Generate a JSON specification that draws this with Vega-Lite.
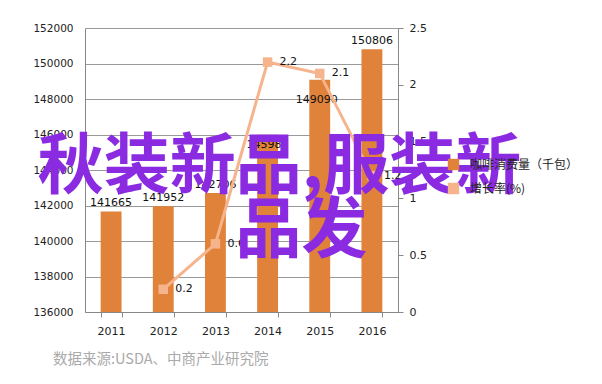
{
  "$schema": "https://vega.github.io/schema/vega-lite/v6.json",
  "autosize": {"type": "none"},
  "width": 313,
  "height": 284,
  "padding": {"left": 85, "top": 28, "right": 204, "bottom": 72},
  "background": "white",
  "config": {
    "view": {"stroke": null},
    "axis": {"labelFont": "DejaVu Sans", "labelFontSize": 10.5, "labelColor": "#222", "domainColor": "#888", "tickColor": "#888", "gridColor": "#999", "labelOverlap": false},
    "legend": {"labelFont": "Noto Sans CJK SC", "labelFontSize": 12, "labelColor": "#222"}
  },
  "title": {
    "text": "数据来源:USDA、中商产业研究院",
    "orient": "bottom",
    "anchor": "start",
    "dx": 20,
    "offset": 17,
    "font": "Noto Sans CJK SC",
    "fontSize": 14.5,
    "fontWeight": "normal",
    "color": "#aaaaaa"
  },
  "datasets": {
    "main": [
      {"year": "2011", "consumption": 141665, "growth": null, "s1": "咖啡消费量（千包）"},
      {"year": "2012", "consumption": 141952, "growth": 0.2, "s1": "咖啡消费量（千包）"},
      {"year": "2013", "consumption": 142706, "growth": 0.6, "s1": "咖啡消费量（千包）"},
      {"year": "2014", "consumption": 145983, "growth": 2.2, "s1": "咖啡消费量（千包）"},
      {"year": "2015", "consumption": 149090, "growth": 2.1, "s1": "咖啡消费量（千包）"},
      {"year": "2016", "consumption": 150806, "growth": 1.2, "s1": "咖啡消费量（千包）"}
    ],
    "overlay": [
      {"label": "秋装新品,服装新", "year": "2014", "v": 144100, "line": 1},
      {"label": "品发", "year": "2014", "v": 140500, "line": 2}
    ]
  },
  "data": {"name": "main"},
  "encoding": {
    "x": {
      "field": "year", "type": "ordinal", "title": null,
      "scale": {"paddingInner": 0.6, "paddingOuter": 0.3},
      "axis": {"labelAngle": 0, "tickBand": "extent", "tickSize": 5, "labelPadding": 8, "labelFontSize": 11, "domainColor": "#888"}
    }
  },
  "layer": [
    {
      "encoding": {
        "y": {
          "field": "consumption", "type": "quantitative", "title": null,
          "scale": {"domain": [136000, 152000], "zero": false, "nice": false},
          "axis": {"orient": "left", "values": [136000, 138000, 140000, 142000, 144000, 146000, 148000, 150000, 152000], "labelOverlap": false, "labelBound": false, "ticks": false, "labelPadding": 12, "grid": true, "format": "d"}
        }
      },
      "layer": [
        {
          "mark": {"type": "bar", "color": "#e0823a", "clip": true},
          "encoding": {
            "fill": {"field": "s1", "type": "nominal", "title": null,
              "scale": {"domain": ["咖啡消费量（千包）", "增长率(%)"], "range": ["#e0823a", "#f6b48c"]},
              "legend": {"orient": "none", "legendX": 362, "legendY": 130, "symbolType": "square", "symbolSize": 130, "rowPadding": 11, "labelOffset": 10, "labelLimit": 200}
            }
          }
        },
        {
          "transform": [{"filter": "datum.year != '2014' && datum.year != '2015'"}],
          "mark": {"type": "text", "baseline": "bottom", "dy": -3, "font": "DejaVu Sans", "fontSize": 11, "color": "#111"},
          "encoding": {
            "text": {"field": "consumption", "type": "quantitative", "format": "d"}
          }
        },
        {
          "transform": [{"filter": "datum.year == '2014'"}],
          "mark": {"type": "text", "baseline": "middle", "dy": 10, "font": "DejaVu Sans", "fontSize": 11, "color": "#111"},
          "encoding": {
            "text": {"field": "consumption", "type": "quantitative", "format": "d"}
          }
        },
        {
          "transform": [{"filter": "datum.year == '2015'"}],
          "mark": {"type": "text", "baseline": "middle", "dy": 20, "dx": -3, "font": "DejaVu Sans", "fontSize": 11, "color": "#111"},
          "encoding": {
            "text": {"field": "consumption", "type": "quantitative", "format": "d"}
          }
        }
      ]
    },
    {
      "transform": [{"filter": "datum.growth != null"}],
      "encoding": {
        "y": {
          "field": "growth", "type": "quantitative", "title": null,
          "scale": {"domain": [0, 2.5], "nice": false},
          "axis": {"orient": "right", "values": [0, 0.5, 1, 1.5, 2, 2.5], "labelOverlap": false, "labelExpr": "'' + datum.value", "grid": false, "tickSize": 5, "labelPadding": 6, "labelFontSize": 11}
        }
      },
      "layer": [
        {
          "mark": {"type": "line", "color": "#f6b48c", "strokeWidth": 3}
        },
        {
          "mark": {"type": "point", "shape": "square", "filled": true, "opacity": 1, "size": 90, "color": "#f6b48c"}
        },
        {
          "mark": {"type": "text", "align": "left", "baseline": "middle", "dx": 12, "font": "DejaVu Sans", "fontSize": 11, "color": "#111"},
          "encoding": {
            "text": {"field": "growth", "type": "quantitative", "format": ".1f"}
          }
        }
      ]
    },
    {
      "data": {"name": "overlay"},
      "encoding": {
        "y": {"field": "v", "type": "quantitative", "scale": {"domain": [136000, 152000], "zero": false, "nice": false}, "axis": null},
        "text": {"field": "label"}
      },
      "layer": [
        {
          "transform": [{"filter": "datum.line == 1"}],
          "mark": {"type": "text", "font": "Noto Sans CJK SC", "fontWeight": "bold", "fontSize": 66, "color": "#8a2be2", "align": "center", "baseline": "middle", "dx": 12}
        },
        {
          "transform": [{"filter": "datum.line == 2"}],
          "mark": {"type": "text", "font": "Noto Sans CJK SC", "fontWeight": "bold", "fontSize": 66, "color": "#8a2be2", "align": "center", "baseline": "middle", "dx": 34}
        }
      ]
    }
  ],
  "resolve": {"scale": {"y": "independent", "fill": "shared"}}
}
